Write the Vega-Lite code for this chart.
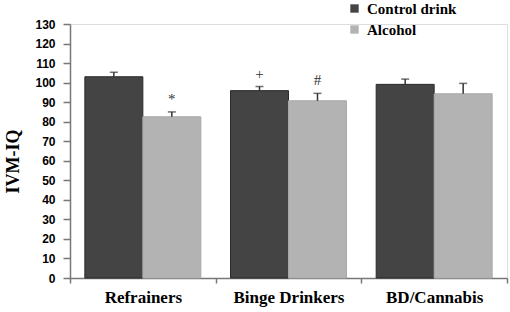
{
  "$schema": "https://vega.github.io/schema/vega-lite/v6.json",
  "width": 437,
  "height": 254,
  "autosize": "none",
  "padding": {"left": 70, "top": 24, "right": 3, "bottom": 34},
  "background": "white",
  "config": {
    "axisY": {
      "titleFont": "Liberation Serif", "titleFontWeight": "bold",
      "titleFontSize": 18, "titleColor": "black",
      "titleX": -57, "titleY": 137, "titleBaseline": "middle", "titleAngle": -90,
      "labelOverlap": false,
      "labelFont": "Liberation Sans", "labelFontWeight": "bold", "labelFontSize": 12,
      "labelColor": "black", "grid": false, "tickSize": 7, "labelPadding": 8,
      "domainColor": "#777", "tickColor": "#777", "domainWidth": 1.5, "tickWidth": 1.5
    }
  },
  "data": {
    "values": [
      {"group": "Refrainers", "cond": "Control drink", "value": 103, "upper": 105.3, "sig": ""},
      {"group": "Refrainers", "cond": "Alcohol", "value": 82.5, "upper": 85, "sig": "*"},
      {"group": "Binge Drinkers", "cond": "Control drink", "value": 95.9, "upper": 98, "sig": "+"},
      {"group": "Binge Drinkers", "cond": "Alcohol", "value": 90.7, "upper": 94.5, "sig": "#"},
      {"group": "BD/Cannabis", "cond": "Control drink", "value": 99.1, "upper": 101.8, "sig": ""},
      {"group": "BD/Cannabis", "cond": "Alcohol", "value": 94.3, "upper": 99.6, "sig": ""}
    ]
  },
  "encoding": {
    "x": {
      "field": "group", "type": "nominal",
      "sort": ["Refrainers", "Binge Drinkers", "BD/Cannabis"],
      "scale": {"paddingInner": 0, "paddingOuter": 0},
      "axis": {
        "title": null, "labelAngle": 0, "tickBand": "extent",
        "labelFont": "Liberation Serif", "labelFontWeight": "bold", "labelFontSize": 17,
        "labelColor": "black", "labelPadding": 6, "tickSize": 5,
        "domainColor": "#777", "tickColor": "#777", "domainWidth": 1.5, "tickWidth": 1.5
      }
    },
    "xOffset": {
      "field": "cond", "type": "nominal",
      "sort": ["Control drink", "Alcohol"],
      "scale": {"paddingInner": 0, "paddingOuter": 0.256}
    }
  },
  "layer": [
    {
      "mark": {"type": "bar", "strokeWidth": 1},
      "encoding": {
        "y": {
          "field": "value", "type": "quantitative",
          "scale": {"domain": [0, 130], "nice": false},
          "axis": {"title": "IVM-IQ", "values": [0,10,20,30,40,50,60,70,80,90,100,110,120,130]}
        },
        "color": {
          "field": "cond", "type": "nominal",
          "sort": ["Control drink", "Alcohol"],
          "scale": {"domain": ["Control drink", "Alcohol"], "range": ["#444444", "#b3b3b3"]},
          "legend": {
            "title": null, "orient": "none", "legendX": 277, "legendY": -23,
            "symbolType": "square", "symbolSize": 70, "symbolStrokeWidth": 0,
            "labelFont": "Liberation Serif", "labelFontWeight": "bold", "labelFontSize": 15,
            "labelColor": "black", "rowPadding": 5, "labelOffset": 5
          }
        },
        "stroke": {
          "field": "cond", "type": "nominal",
          "scale": {"domain": ["Control drink", "Alcohol"], "range": ["#2a2a2a", "#a8a8a8"]},
          "legend": null
        }
      }
    },
    {
      "mark": {"type": "rule", "color": "#333", "strokeWidth": 1.5},
      "encoding": {
        "y": {"field": "value", "type": "quantitative", "axis": {"title": "IVM-IQ", "values": [0,10,20,30,40,50,60,70,80,90,100,110,120,130]}},
        "y2": {"field": "upper"}
      }
    },
    {
      "mark": {"type": "tick", "color": "#333", "size": 8, "thickness": 1.5},
      "encoding": {
        "y": {"field": "upper", "type": "quantitative", "axis": {"title": "IVM-IQ", "values": [0,10,20,30,40,50,60,70,80,90,100,110,120,130]}}
      }
    },
    {
      "mark": {"type": "text", "font": "Liberation Serif", "fontSize": 15, "color": "#333", "baseline": "middle", "dy": -13},
      "encoding": {
        "y": {"field": "upper", "type": "quantitative", "axis": {"title": "IVM-IQ", "values": [0,10,20,30,40,50,60,70,80,90,100,110,120,130]}},
        "text": {"field": "sig"}
      }
    }
  ]
}
